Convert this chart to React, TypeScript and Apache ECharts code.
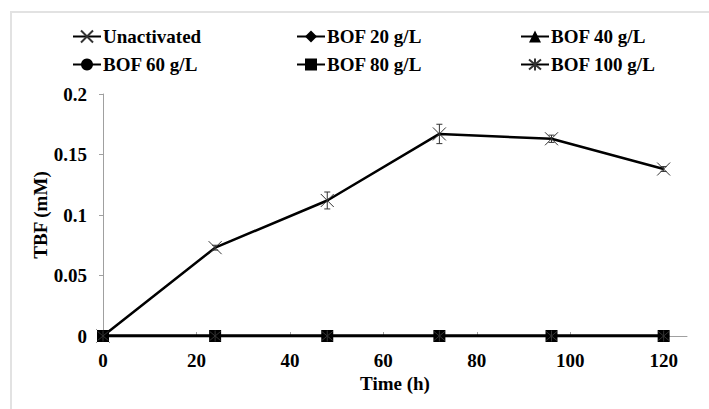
import React, { useEffect, useRef } from "react";
import * as echarts from "echarts";

const timeHours = [0, 24, 48, 72, 96, 120];
const unactivated = [0, 0.073, 0.112, 0.167, 0.163, 0.138];
const unactivatedErr = [0, 0.002, 0.007, 0.008, 0.003, 0.002];
const bof20 = [0, 0, 0, 0, 0, 0];
const bof40 = [0, 0, 0, 0, 0, 0];
const bof60 = [0, 0, 0, 0, 0, 0];
const bof80 = [0, 0, 0, 0, 0, 0];
const bof100 = [0, 0, 0, 0, 0, 0];
const xTicks = [0, 20, 40, 60, 80, 100, 120];
const seriesNames = ["Unactivated", "BOF 20 g/L", "BOF 40 g/L", "BOF 60 g/L", "BOF 80 g/L", "BOF 100 g/L"];

const FONT = "Liberation Serif";
const CROSS = "path://M0,0L10,10M10,0L0,10";
const STAR = "path://M0,0L10,10M10,0L0,10M5,-1L5,11";

export default function App() {
  const ref = useRef<HTMLDivElement>(null);
  useEffect(() => {
    if (!ref.current) return;
    const chart = echarts.init(ref.current, null, { renderer: "svg" });
    const pair = (ys: number[]) => timeHours.map((t, i) => [t, ys[i]]);
    const lineBase = {
      type: "line",
      lineStyle: { color: "#000", width: 2.5 },
      itemStyle: { color: "#000", borderColor: "#000", borderWidth: 0, opacity: 1 },
      showSymbol: true,
    };
    const legendPos = [
      [72, 27], [296, 27], [520, 27],
      [72, 55], [296, 55], [520, 55],
    ];
    const legends = seriesNames.map((n, i) => ({
      data: [n],
      left: legendPos[i][0],
      top: legendPos[i][1],
      itemWidth: 28,
      itemHeight: 15,
      itemGap: 4,
      padding: 0,
      selectedMode: false,
      textStyle: { fontFamily: FONT, fontWeight: "bold", fontSize: 19, color: "#000", padding: [0, 0, 0, -3] },
    }));
    const option: any = {
      animation: false,
      backgroundColor: "#fff",
      textStyle: { fontFamily: FONT },
      graphic: [
        {
          type: "rect",
          shape: { x: 11, y: 12, width: 720, height: 420 },
          style: { fill: "none", stroke: "#e2e2e2", lineWidth: 2 },
          silent: true,
          z: -10,
        },
      ],
      legend: legends,
      grid: { left: 103, right: 22, top: 94, bottom: 73, containLabel: false },
      xAxis: {
        type: "value",
        min: 0,
        max: 125,
        name: "Time (h)",
        nameLocation: "middle",
        nameGap: 38,
        nameMoveOverlap: false,
        nameTextStyle: { fontFamily: FONT, fontWeight: "bold", fontSize: 19, color: "#000" },
        axisLine: { show: true, lineStyle: { color: "#a0a0a0", width: 1 } },
        axisTick: { show: true, inside: true, length: 4, customValues: xTicks, lineStyle: { color: "#a0a0a0" } },
        axisLabel: { customValues: xTicks, margin: 15, fontFamily: FONT, fontWeight: "bold", fontSize: 19, color: "#000" },
        splitLine: { show: false },
      },
      yAxis: {
        type: "value",
        min: 0,
        max: 0.2,
        interval: 0.05,
        name: "TBF (mM)",
        nameLocation: "middle",
        nameGap: 53,
        nameMoveOverlap: false,
        nameTextStyle: { fontFamily: FONT, fontWeight: "bold", fontSize: 19, color: "#000" },
        axisLine: { show: true, lineStyle: { color: "#a0a0a0", width: 1 } },
        axisTick: { show: true, inside: false, length: 4, lineStyle: { color: "#a0a0a0" } },
        axisLabel: { margin: 16, fontFamily: FONT, fontWeight: "bold", fontSize: 19, color: "#000" },
        splitLine: { show: false },
      },
      series: [
        {
          ...lineBase,
          name: seriesNames[0],
          data: pair(unactivated),
          symbol: CROSS,
          symbolSize: 13,
          itemStyle: { color: "none", borderColor: "#333", borderWidth: 1, opacity: 1 },
          z: 2,
        },
        {
          type: "custom",
          name: "err",
          data: timeHours.map((t, i) => [t, unactivated[i], unactivatedErr[i]]),
          renderItem: (params: any, api: any) => {
            const x = api.value(0);
            const y = api.value(1);
            const e = api.value(2);
            if (!e) return null;
            const top = api.coord([x, y + e]);
            const bot = api.coord([x, y - e]);
            const stroke = { stroke: "#333", lineWidth: 1 };
            return {
              type: "group",
              children: [
                { type: "line", shape: { x1: top[0], y1: top[1], x2: bot[0], y2: bot[1] }, style: stroke },
                { type: "line", shape: { x1: top[0] - 3, y1: top[1], x2: top[0] + 3, y2: top[1] }, style: stroke },
                { type: "line", shape: { x1: bot[0] - 3, y1: bot[1], x2: bot[0] + 3, y2: bot[1] }, style: stroke },
              ],
            };
          },
          z: 3,
          silent: true,
        },
        { ...lineBase, name: seriesNames[1], data: pair(bof20), symbol: "diamond", symbolSize: 12, z: 4 },
        { ...lineBase, name: seriesNames[2], data: pair(bof40), symbol: "triangle", symbolSize: 11, z: 4 },
        { ...lineBase, name: seriesNames[3], data: pair(bof60), symbol: "circle", symbolSize: 10, z: 4 },
        { ...lineBase, name: seriesNames[4], data: pair(bof80), symbol: "rect", symbolSize: 12, z: 4 },
        {
          ...lineBase,
          name: seriesNames[5],
          data: pair(bof100),
          symbol: STAR,
          symbolSize: 11,
          itemStyle: { color: "none", borderColor: "#333", borderWidth: 1, opacity: 1 },
          z: 4,
        },
      ],
    };
    chart.setOption(option);
    return () => chart.dispose();
  }, []);
  return (
    <div
      ref={ref}
      style={{ position: "fixed", left: 0, top: 0, width: 709, height: 409, background: "#fff" }}
    />
  );
}
